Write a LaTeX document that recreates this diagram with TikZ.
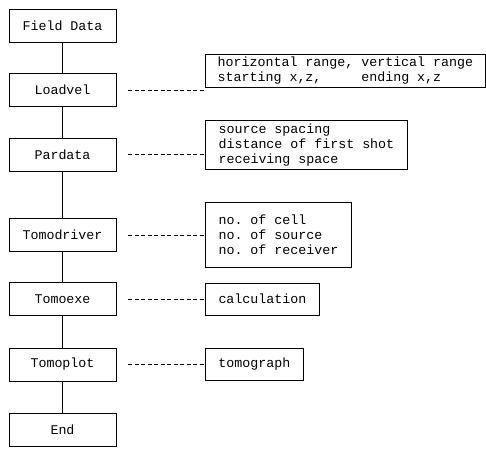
\documentclass[tikz,border=0pt]{standalone}
\usepackage{fontspec}
\setmonofont{Liberation Mono}
\usetikzlibrary{positioning,calc}

\begin{document}
\begin{tikzpicture}[
    x=1pt, y=-1pt,
    prog/.style={rectangle, draw, line width=0.8pt, minimum width=107pt, minimum height=33pt, inner sep=2pt, font=\ttfamily\fontsize{13.3}{15}\selectfont},
    note/.style={rectangle, draw, line width=0.8pt, anchor=west, align=left, inner sep=3pt, font=\ttfamily\fontsize{13.3}{15}\selectfont},
    link/.style={line width=0.8pt},
    dashline/.style={line width=0.7pt, dash pattern=on 4pt off 2.5pt, shorten <=12pt}
]
\useasboundingbox (0,0) rectangle (486,448);

% Program chain
\node[prog] (field) at (62.5,25.5) {Field Data};
\node[prog] (loadvel) at (62.5,90) {Loadvel};
\node[prog] (pardata) at (62.5,154.5) {Pardata};
\node[prog] (tomodriver) at (62.5,235) {Tomodriver};
\node[prog] (tomoexe) at (62.5,299) {Tomoexe};
\node[prog] (tomoplot) at (62.5,364.5) {Tomoplot};
\node[prog] (stop) at (62.5,430) {End};

% Input notes
\node[note, minimum width=280pt, minimum height=29pt] (range) at (205,71) {
    horizontal range, vertical range\\
    starting x,z,~~~~~ending x,z
};
\node[note, minimum width=202pt, minimum height=46pt] (spacing) at (205,145) {
    source spacing\\
    distance of first shot\\
    receiving space
};
\node[note, minimum width=146pt, minimum height=65pt] (counts) at (205,234.5) {
    no. of cell\\
    no. of source\\
    no. of receiver
};
\node[note, minimum width=114pt, minimum height=32pt] (calc) at (205,299) {calculation};
\node[note, minimum width=98pt, minimum height=32pt] (graph) at (205,364) {tomograph};

% Chain lines
\draw[link] (field) -- (loadvel);
\draw[link] (loadvel) -- (pardata);
\draw[link] (pardata) -- (tomodriver);
\draw[link] (tomodriver) -- (tomoexe);
\draw[link] (tomoexe) -- (tomoplot);
\draw[link] (tomoplot) -- (stop);

% Dashed links to notes
\draw[dashline] (loadvel.east) -- (loadvel.east -| range.west);
\draw[dashline] (pardata.east) -- (pardata.east -| spacing.west);
\draw[dashline] (tomodriver.east) -- (tomodriver.east -| counts.west);
\draw[dashline] (tomoexe.east) -- (tomoexe.east -| calc.west);
\draw[dashline] (tomoplot.east) -- (tomoplot.east -| graph.west);

\end{tikzpicture}
\end{document}
